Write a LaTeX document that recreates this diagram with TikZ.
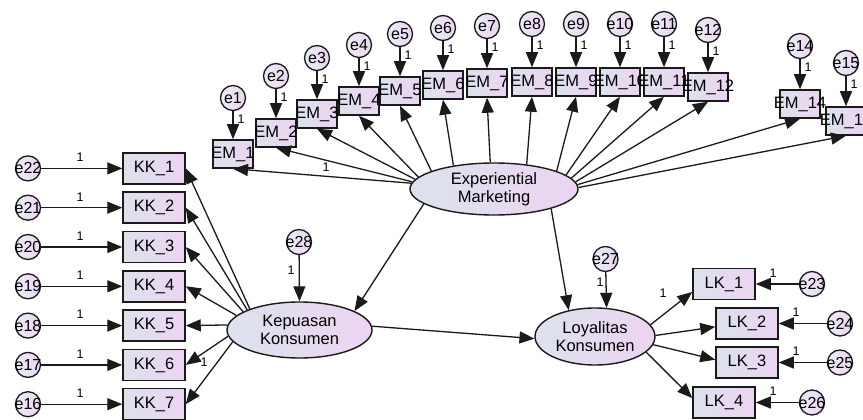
\documentclass[tikz,border=0pt]{standalone}
\usepackage{fontspec}
\setmainfont{Liberation Sans}
\usetikzlibrary{arrows.meta,shapes.geometric}
\definecolor{shL}{HTML}{DCE2EC}
\definecolor{shR}{HTML}{ECD4F2}
\definecolor{ln}{HTML}{1A1A1A}
\newcommand{\zw}[1]{\makebox[0pt][c]{#1}}
\begin{document}
\begin{tikzpicture}[x=1pt,y=-1pt,
  obs/.style={draw=ln, line width=1.5pt, left color=shL, right color=shR,
    minimum width=40pt, minimum height=28pt, inner sep=0pt,
    font=\fontsize{16.5}{18}\selectfont},
  obsk/.style={obs, minimum width=62pt, minimum height=31pt},
  err/.style={circle, draw=ln, line width=1.3pt, left color=shL!60!white, right color=shR,
    minimum size=25pt, inner sep=0pt, font=\fontsize{16}{18}\selectfont},
  lat/.style={ellipse, draw=ln, line width=1.4pt, left color=shL, right color=shR,
    inner sep=0pt, align=center, font=\fontsize{16.5}{18}\selectfont},
  arr/.style={draw=ln, line width=1.3pt, -{Triangle[length=15pt,width=12pt]}},
  one/.style={inner sep=0pt, font=\fontsize{12.5}{12.5}\selectfont}
]
\useasboundingbox (0,0) rectangle (863,420);
\clip (0,0) rectangle (863,420);
\fill[white] (0,0) rectangle (863,420);

% latent variables
\node[lat, minimum width=168pt, minimum height=52pt] (exp) at (494,189) {Experiential\\Marketing};
\node[lat, minimum width=145pt, minimum height=56pt] (kep) at (299.5,330) {Kepuasan\\Konsumen};
\node[lat, minimum width=120pt, minimum height=57pt] (loy) at (595,336.5) {Loyalitas\\Konsumen};

% EM indicators and their errors
\foreach \n/\x/\y/\ey/\a in {1/233/154/98/176.5, 2/276/133/76/175, 3/317/114/58/173.6, 4/359/101/45/171,
    5/400/91/34/164.2, 6/443/85/28/150.1, 7/487/83/26/98.7, 8/532/82/24/37.7, 9/576/82/24/16.4,
    10/620/82/24/11.6, 11/664/82/24/8.2, 12/708/87/30/5.6, 14/800/104/46/3, 15/846/121/63/1}{
  \node[obs] (em\n) at (\x,\y) {\zw{EM\_\n}};
  \node[err] (e\n) at (\x,\ey) {\zw{e\n}};
}
\foreach \n/\x/\y/\ey/\a in {1/233/154/98/176.5, 2/276/133/76/175, 3/317/114/58/173.6, 4/359/101/45/171,
    5/400/91/34/164.2, 6/443/85/28/150.1, 7/487/83/26/98.7, 8/532/82/24/37.7, 9/576/82/24/16.4,
    10/620/82/24/11.6, 11/664/82/24/8.2, 12/708/87/30/5.6, 14/800/104/46/3, 15/846/121/63/1}{
  \draw[arr] (e\n) -- (em\n);
  \node[one] (le\n) at (\x+8,\ey+21) {1};
  \draw[arr] (exp.\a) -- (em\n.south);
}
\node[one] (lexp) at (326,167) {1};

% KK indicators
\foreach \i/\e/\y/\a in {1/22/168.4/157.1, 2/21/207.7/159.7, 3/20/247/162.8, 4/19/286.3/167.8,
    5/18/325.6/176.8, 6/17/364.9/185.8, 7/16/404.2/190}{
  \node[obsk] (kk\i) at (154,\y) {\zw{KK\_\i}};
  \node[err] (e\e) at (28,\y) {\zw{e\e}};
  \draw[arr] (e\e) -- (kk\i);
  \node[one] (lk\e) at (80,\y-11) {1};
  \draw[arr] (kep.\a) -- (kk\i.east);
}
\node[one] (lkk6) at (204,362) {1};

% LK indicators
\foreach \i/\e/\x/\y/\ex/\a/\b in {1/23/724/284/812/12.2/194, 2/24/747/323.5/840/1.4/186,
    3/25/747/362.5/840/-8.3/175, 4/26/724/402.5/812/-17.3/172}{
  \node[obsk] (lk\i) at (\x,\y) {\zw{LK\_\i}};
  \node[err] (e\e) at (\ex,\y) {\zw{e\e}};
  \draw[arr] (e\e) -- (lk\i);
  \node[one] (ll\e) at (\x+49,\y-11) {1};
  \draw[arr] (loy.\a) -- (lk\i.\b);
}
\node[one] (llk1) at (663,293) {1};

% disturbances
\node[err] (e28) at (299,242) {\zw{e28}};
\node[err] (e27) at (605.5,259) {\zw{e27}};
\draw[arr] (e28) -- (kep.north);
\draw[arr] (e27) -- (loy.68);
\node[one] (l28) at (291,270) {1};
\node[one] (l27) at (600,282) {1};

% structural paths
\draw[arr] (exp.192.2) -- (kep.19);
\draw[arr] (exp.-19.9) -- (loy.135);
\draw[arr] (kep.3) -- (loy.182);
\end{tikzpicture}
\end{document}
